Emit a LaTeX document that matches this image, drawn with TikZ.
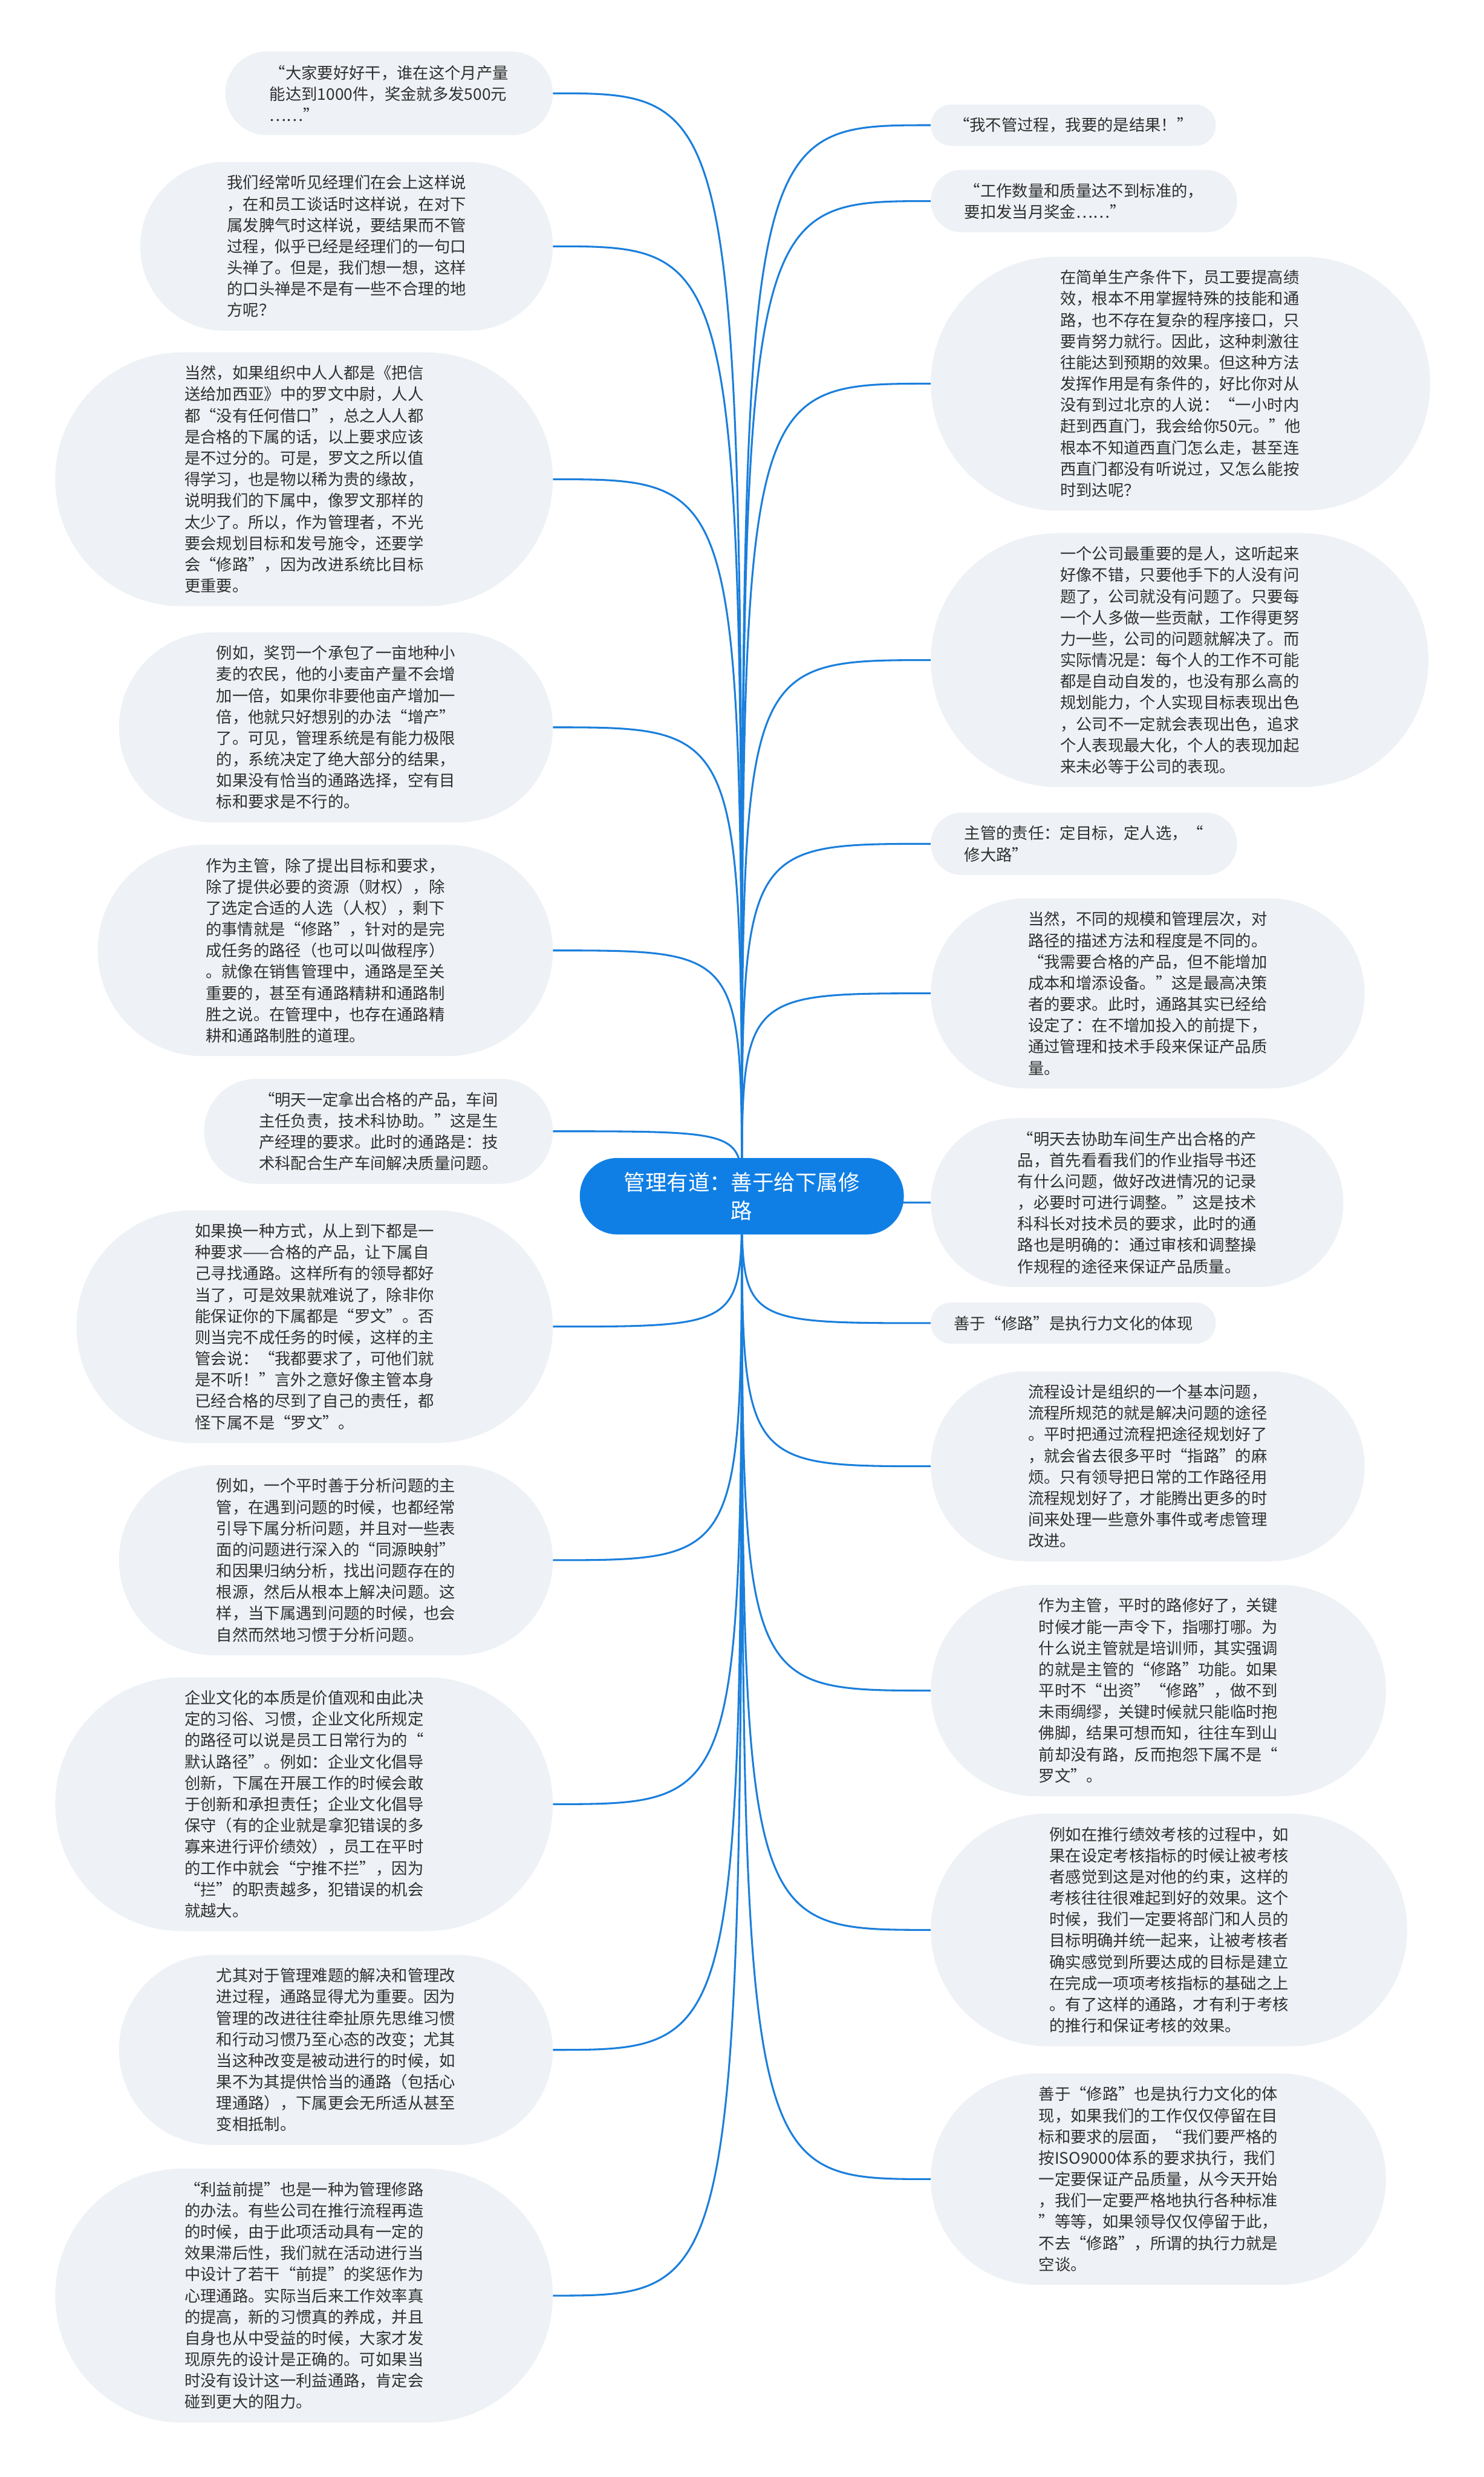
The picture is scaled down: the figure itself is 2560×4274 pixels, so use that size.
\documentclass[tikz,border=0pt]{standalone}
\usepackage{fontspec}
\setmainfont{Noto Sans CJK SC}
\definecolor{leafbg}{HTML}{EEF1F5}
\definecolor{txt}{HTML}{303030}
\definecolor{linkc}{HTML}{1A7FDC}
\definecolor{rootc}{HTML}{0F7FE6}
\pgfdeclarelayer{bg}
\pgfdeclarelayer{back}
\pgfsetlayers{back,bg,main}
\tikzset{
  leaf/.code={%
    \pgfmathsetmacro\leafhh{36.7*#1+34.3}%
    \pgfmathsetmacro\leafrr{\leafhh/2-0.5}%
    \pgfmathsetmacro\leafxs{\leafhh/2+4}%
    \tikzset{rectangle, fill=leafbg, text=txt, align=left,
      inner ysep=4pt, font=\fontsize{27.5pt}{36.7pt}\selectfont,
      minimum height=\leafhh pt, rounded corners=\leafrr pt, inner xsep=\leafxs pt}},
  lnode/.style={leaf=#1, anchor=east},
  rnode/.style={leaf=#1, anchor=west},
  link/.style={draw=linkc, line width=3.2pt},
  root/.style={rectangle, rounded corners=65pt, fill=rootc, text=white, align=center,
    font=\fontsize{37pt}{49pt}\selectfont, minimum height=132pt, inner xsep=76pt}
}
\begin{document}
\begin{tikzpicture}[x=1pt,y=-1pt]
\begin{pgfonlayer}{back}
\fill[white] (0,0) rectangle (2560,4274);
\end{pgfonlayer}
\useasboundingbox (0,0) rectangle (2560,4274);
\node[root] (root) at (1280,2064) {管理有道：善于给下属修\\路};

% left nodes
\node[lnode=3] (L1) at (954,161) {“大家要好好干，谁在这个月产量\\能达到1000件，奖金就多发500元\\……”};
\node[lnode=7] (L2) at (954,425) {我们经常听见经理们在会上这样说\\，在和员工谈话时这样说，在对下\\属发脾气时这样说，要结果而不管\\过程，似乎已经是经理们的一句口\\头禅了。但是，我们想一想，这样\\的口头禅是不是有一些不合理的地\\方呢？};
\node[lnode=11] (L3) at (954,827) {当然，如果组织中人人都是《把信\\送给加西亚》中的罗文中尉，人人\\都“没有任何借口”，总之人人都\\是合格的下属的话，以上要求应该\\是不过分的。可是，罗文之所以值\\得学习，也是物以稀为贵的缘故，\\说明我们的下属中，像罗文那样的\\太少了。所以，作为管理者，不光\\要会规划目标和发号施令，还要学\\会“修路”，因为改进系统比目标\\更重要。};
\node[lnode=8] (L4) at (954,1255) {例如，奖罚一个承包了一亩地种小\\麦的农民，他的小麦亩产量不会增\\加一倍，如果你非要他亩产增加一\\倍，他就只好想别的办法“增产”\\了。可见，管理系统是有能力极限\\的，系统决定了绝大部分的结果，\\如果没有恰当的通路选择，空有目\\标和要求是不行的。};
\node[lnode=9] (L5) at (954,1640) {作为主管，除了提出目标和要求，\\除了提供必要的资源（财权），除\\了选定合适的人选（人权），剩下\\的事情就是“修路”，针对的是完\\成任务的路径（也可以叫做程序）\\。就像在销售管理中，通路是至关\\重要的，甚至有通路精耕和通路制\\胜之说。在管理中，也存在通路精\\耕和通路制胜的道理。};
\node[lnode=4] (L6) at (954,1952) {“明天一定拿出合格的产品，车间\\主任负责，技术科协助。”这是生\\产经理的要求。此时的通路是：技\\术科配合生产车间解决质量问题。};
\node[lnode=10] (L7) at (954,2289) {如果换一种方式，从上到下都是一\\种要求——合格的产品，让下属自\\己寻找通路。这样所有的领导都好\\当了，可是效果就难说了，除非你\\能保证你的下属都是“罗文”。否\\则当完不成任务的时候，这样的主\\管会说：“我都要求了，可他们就\\是不听！”言外之意好像主管本身\\已经合格的尽到了自己的责任，都\\怪下属不是“罗文”。};
\node[lnode=8] (L8) at (954,2692) {例如，一个平时善于分析问题的主\\管，在遇到问题的时候，也都经常\\引导下属分析问题，并且对一些表\\面的问题进行深入的“同源映射”\\和因果归纳分析，找出问题存在的\\根源，然后从根本上解决问题。这\\样，当下属遇到问题的时候，也会\\自然而然地习惯于分析问题。};
\node[lnode=11] (L9) at (954,3113) {企业文化的本质是价值观和由此决\\定的习俗、习惯，企业文化所规定\\的路径可以说是员工日常行为的“\\默认路径”。例如：企业文化倡导\\创新，下属在开展工作的时候会敢\\于创新和承担责任；企业文化倡导\\保守（有的企业就是拿犯错误的多\\寡来进行评价绩效），员工在平时\\的工作中就会“宁推不拦”，因为\\“拦”的职责越多，犯错误的机会\\就越大。};
\node[lnode=8] (L10) at (954,3537) {尤其对于管理难题的解决和管理改\\进过程，通路显得尤为重要。因为\\管理的改进往往牵扯原先思维习惯\\和行动习惯乃至心态的改变；尤其\\当这种改变是被动进行的时候，如\\果不为其提供恰当的通路（包括心\\理通路），下属更会无所适从甚至\\变相抵制。};
\node[lnode=11] (L11) at (954,3961) {“利益前提”也是一种为管理修路\\的办法。有些公司在推行流程再造\\的时候，由于此项活动具有一定的\\效果滞后性，我们就在活动进行当\\中设计了若干“前提”的奖惩作为\\心理通路。实际当后来工作效率真\\的提高，新的习惯真的养成，并且\\自身也从中受益的时候，大家才发\\现原先的设计是正确的。可如果当\\时没有设计这一利益通路，肯定会\\碰到更大的阻力。};

% right nodes
\node[rnode=1] (R1) at (1606,216) {“我不管过程，我要的是结果！”};
\node[rnode=2] (R2) at (1606,347) {“工作数量和质量达不到标准的，\\要扣发当月奖金……”};
\node[rnode=11] (R3) at (1606,662) {在简单生产条件下，员工要提高绩\\效，根本不用掌握特殊的技能和通\\路，也不存在复杂的程序接口，只\\要肯努力就行。因此，这种刺激往\\往能达到预期的效果。但这种方法\\发挥作用是有条件的，好比你对从\\没有到过北京的人说：“一小时内\\赶到西直门，我会给你50元。”他\\根本不知道西直门怎么走，甚至连\\西直门都没有听说过，又怎么能按\\时到达呢？};
\node[rnode=11] (R4) at (1606,1139) {一个公司最重要的是人，这听起来\\好像不错，只要他手下的人没有问\\题了，公司就没有问题了。只要每\\一个人多做一些贡献，工作得更努\\力一些，公司的问题就解决了。而\\实际情况是：每个人的工作不可能\\都是自动自发的，也没有那么高的\\规划能力，个人实现目标表现出色\\，公司不一定就会表现出色，追求\\个人表现最大化，个人的表现加起\\来未必等于公司的表现。};
\node[rnode=2] (R5) at (1606,1456) {主管的责任：定目标，定人选，“\\修大路”};
\node[rnode=8] (R6) at (1606,1714) {当然，不同的规模和管理层次，对\\路径的描述方法和程度是不同的。\\“我需要合格的产品，但不能增加\\成本和增添设备。”这是最高决策\\者的要求。此时，通路其实已经给\\设定了：在不增加投入的前提下，\\通过管理和技术手段来保证产品质\\量。};
\node[rnode=7] (R7) at (1606,2075) {“明天去协助车间生产出合格的产\\品，首先看看我们的作业指导书还\\有什么问题，做好改进情况的记录\\，必要时可进行调整。”这是技术\\科科长对技术员的要求，此时的通\\路也是明确的：通过审核和调整操\\作规程的途径来保证产品质量。};
\node[rnode=1] (R8) at (1606,2283) {善于“修路”是执行力文化的体现};
\node[rnode=8] (R9) at (1606,2530) {流程设计是组织的一个基本问题，\\流程所规范的就是解决问题的途径\\。平时把通过流程把途径规划好了\\，就会省去很多平时“指路”的麻\\烦。只有领导把日常的工作路径用\\流程规划好了，才能腾出更多的时\\间来处理一些意外事件或考虑管理\\改进。};
\node[rnode=9] (R10) at (1606,2917) {作为主管，平时的路修好了，关键\\时候才能一声令下，指哪打哪。为\\什么说主管就是培训师，其实强调\\的就是主管的“修路”功能。如果\\平时不“出资”“修路”，做不到\\未雨绸缪，关键时候就只能临时抱\\佛脚，结果可想而知，往往车到山\\前却没有路，反而抱怨下属不是“\\罗文”。};
\node[rnode=10] (R11) at (1606,3330) {例如在推行绩效考核的过程中，如\\果在设定考核指标的时候让被考核\\者感觉到这是对他的约束，这样的\\考核往往很难起到好的效果。这个\\时候，我们一定要将部门和人员的\\目标明确并统一起来，让被考核者\\确实感觉到所要达成的目标是建立\\在完成一项项考核指标的基础之上\\。有了这样的通路，才有利于考核\\的推行和保证考核的效果。};
\node[rnode=9] (R12) at (1606,3760) {善于“修路”也是执行力文化的体\\现，如果我们的工作仅仅停留在目\\标和要求的层面，“我们要严格的\\按ISO9000体系的要求执行，我们\\一定要保证产品质量，从今天开始\\，我们一定要严格地执行各种标准\\”等等，如果领导仅仅停留于此，\\不去“修路”，所谓的执行力就是\\空谈。};

\begin{pgfonlayer}{bg}
\foreach \n in {L1,L2,L3,L4,L5,L6,L7,L8,L9,L10,L11}
  \draw[link] (root.center) .. controls (root.center |- \n.east) .. (\n.east);
\foreach \n in {R1,R2,R3,R4,R5,R6,R7,R8,R9,R10,R11,R12}
  \draw[link] (root.center) .. controls (root.center |- \n.west) .. (\n.west);
\end{pgfonlayer}
\end{tikzpicture}
\end{document}
